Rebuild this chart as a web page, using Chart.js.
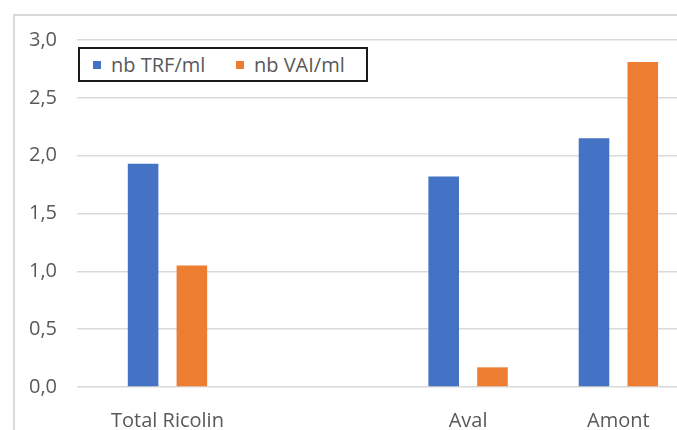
<!DOCTYPE html>
<html>
<head>
<meta charset="utf-8">
<script src="https://cdn.jsdelivr.net/npm/chart.js@4/dist/chart.umd.min.js"></script>
<style>
  html, body { margin: 0; padding: 0; background: #fff; overflow: hidden; }
  #wrap { position: relative; width: 677px; height: 430px; overflow: hidden; }
  #frame {
    position: absolute; left: 13px; top: 14px; width: 700px; height: 450px;
    border-left: 2px solid #d9d9d9; border-top: 2px solid #d9d9d9;
    box-sizing: border-box;
  }
  #chart { position: absolute; left: 0; top: 0; }
  #legend {
    position: absolute; left: 78px; top: 47px; width: 290px; height: 35px;
    border: 2px solid #1a1a1a; box-sizing: border-box; background: #fff;
    font-family: "Open Sans", sans-serif; font-size: 20px; color: #595959;
  }
  .item { position: absolute; top: 0; height: 31px; display: flex; align-items: center; white-space: nowrap; }
  .swatch { width: 8px; height: 8px; margin-right: 10px; }
</style>
</head>
<body>
<div id="wrap">
  <div id="frame"></div>
  <canvas id="chart" width="677" height="430"></canvas>
  <div id="legend"></div>
</div>
<script>
// Sampling sites (the second slot is an empty placeholder column)
const categories = ['Total Ricolin', '', 'Aval', 'Amont'];
const seriesNames = ['nb TRF/ml', 'nb VAI/ml'];
const trfPerMl = [1.93, null, 1.82, 2.15];
const vaiPerMl = [1.05, null, 0.17, 2.81];
const yTickLabels = ['0,0', '0,5', '1,0', '1,5', '2,0', '2,5', '3,0'];
const labelledSlots = [0, 2, 3];

const BLUE = '#4472C4';
const ORANGE = '#ED7D31';
const FONT = '"Open Sans", sans-serif';

const toPoints = (vals) => vals.map((v, i) => ({ x: i, y: v }));

const chart = new Chart(document.getElementById('chart'), {
  type: 'bar',
  data: {
    datasets: [
      { label: seriesNames[0], data: toPoints(trfPerMl), backgroundColor: BLUE, borderWidth: 0 },
      { label: seriesNames[1], data: toPoints(vaiPerMl), backgroundColor: ORANGE, borderWidth: 0 }
    ]
  },
  options: {
    responsive: false,
    animation: false,
    devicePixelRatio: 1,
    categoryPercentage: 0.649,
    barPercentage: 0.627,
    layout: { padding: { top: 40, left: 0, right: 0, bottom: 0 } },
    plugins: {
      legend: { display: false },
      tooltip: { enabled: false }
    },
    scales: {
      x: {
        type: 'linear',
        offset: false,
        min: -0.602,
        max: 3.39,
        afterBuildTicks: (scale) => {
          scale.ticks = labelledSlots.map((v) => ({ value: v }));
        },
        afterFit: (scale) => { scale.height = 43; },
        grid: { display: false },
        border: { display: false },
        ticks: {
          autoSkip: false,
          maxRotation: 0,
          padding: 14,
          color: '#595959',
          font: { family: FONT, size: 20 },
          callback: (value) => categories[value]
        }
      },
      y: {
        min: 0,
        max: 3,
        afterFit: (scale) => { scale.width = 77; },
        grid: { color: '#d9d9d9', lineWidth: 1.5, drawTicks: false },
        border: { display: false },
        ticks: {
          stepSize: 0.5,
          padding: 20,
          color: '#595959',
          font: { family: FONT, size: 20 },
          callback: (value, index) => yTickLabels[index]
        }
      }
    }
  }
});

// Legend box built from the chart's own legend items
const legendEl = document.getElementById('legend');
const itemOffsets = [13, 156];
chart.options.plugins.legend.labels.generateLabels(chart).forEach((item, i) => {
  const el = document.createElement('div');
  el.className = 'item';
  el.style.left = itemOffsets[i] + 'px';
  const sw = document.createElement('span');
  sw.className = 'swatch';
  sw.style.background = item.fillStyle;
  const tx = document.createElement('span');
  tx.textContent = item.text;
  el.appendChild(sw);
  el.appendChild(tx);
  legendEl.appendChild(el);
});
</script>
</body>
</html>
